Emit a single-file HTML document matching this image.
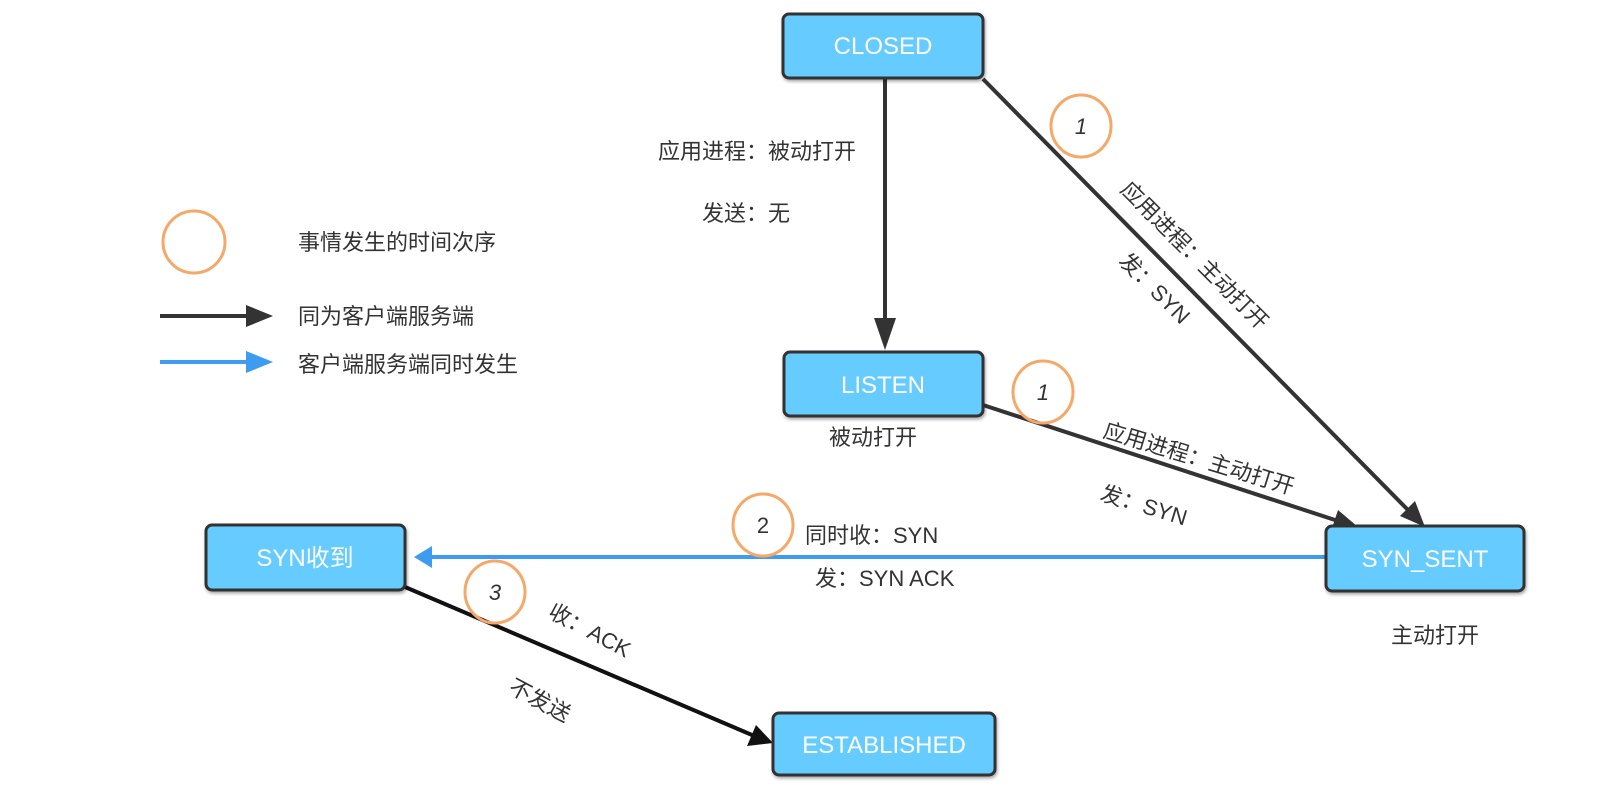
<!DOCTYPE html>
<html><head><meta charset="utf-8"><style>
html,body{margin:0;padding:0;background:#fff;}
svg{display:block;}
text{font-family:"Liberation Sans","Noto Sans CJK SC",sans-serif;fill:#333;}
.bt{fill:#fff;font-size:24px;}
.lb{font-size:22px;}
</style></head><body>
<svg width="1610" height="800" viewBox="0 0 1610 800" xmlns="http://www.w3.org/2000/svg">
<defs>
<marker id="ad" markerWidth="10" markerHeight="10" refX="9" refY="5" orient="auto" markerUnits="userSpaceOnUse" viewBox="0 0 10 10">
</marker>
<filter id="sh" x="-10%" y="-10%" width="130%" height="140%"><feDropShadow dx="1" dy="2" stdDeviation="1.5" flood-color="#000" flood-opacity="0.35"/></filter>
</defs>

<!-- connectors -->
<line x1="885" y1="79" x2="885" y2="322" stroke="#333" stroke-width="4"/>
<polygon points="874,318 896,318 885,350" fill="#333"/>

<line x1="983" y1="79" x2="1408" y2="510" stroke="#333" stroke-width="4"/>
<polygon points="1400,516 1415,501 1425,527" fill="#333"/>

<line x1="983" y1="405" x2="1335" y2="520" stroke="#333" stroke-width="4"/>
<polygon points="1331,531 1338,510 1358,527" fill="#333"/>

<line x1="1326" y1="557" x2="428" y2="557" stroke="#3d9bf0" stroke-width="4"/>
<polygon points="432,546 432,568 414,557" fill="#3d9bf0"/>

<line x1="405" y1="587" x2="752" y2="735" stroke="#111" stroke-width="4"/>
<polygon points="747,746 756,725 773,743" fill="#111"/>

<!-- boxes -->
<g filter="url(#sh)" stroke="#333" stroke-width="3" fill="#66ccff">
<rect x="783" y="14" width="200" height="64" rx="6"/>
<rect x="784" y="352" width="199" height="64" rx="6"/>
<rect x="206" y="525" width="199" height="65" rx="6"/>
<rect x="1326" y="526" width="198" height="65" rx="6"/>
<rect x="773" y="713" width="222" height="62" rx="6"/>
</g>
<text class="bt" x="883" y="54" text-anchor="middle">CLOSED</text>
<text class="bt" x="883" y="393" text-anchor="middle">LISTEN</text>
<text class="bt" x="305" y="566" text-anchor="middle">SYN收到</text>
<text class="bt" x="1425" y="567" text-anchor="middle">SYN_SENT</text>
<text class="bt" x="884" y="753" text-anchor="middle">ESTABLISHED</text>

<!-- circles -->
<g fill="none" stroke="#f5a868" stroke-width="3">
<ellipse cx="194" cy="242" rx="31" ry="31"/>
<ellipse cx="1081" cy="126" rx="30" ry="31"/>
<ellipse cx="1043" cy="392" rx="30" ry="31"/>
<ellipse cx="763" cy="525" rx="30" ry="31"/>
<ellipse cx="495" cy="592" rx="30" ry="31"/>
</g>
<text class="lb" x="1081" y="134" text-anchor="middle" font-style="italic">1</text>
<text class="lb" x="1043" y="400" text-anchor="middle" font-style="italic">1</text>
<text class="lb" x="763" y="533" text-anchor="middle">2</text>
<text class="lb" x="495" y="600" text-anchor="middle" font-style="italic">3</text>

<!-- legend -->
<line x1="160" y1="316" x2="250" y2="316" stroke="#333" stroke-width="4"/>
<polygon points="246,305 246,327 273,316" fill="#333"/>
<line x1="160" y1="362" x2="250" y2="362" stroke="#3d9bf0" stroke-width="4"/>
<polygon points="246,351 246,373 273,362" fill="#3d9bf0"/>
<text class="lb" x="298" y="250" font-size="23">事情发生的时间次序</text>
<text class="lb" x="298" y="324" font-size="23">同为客户端服务端</text>
<text class="lb" x="298" y="372" font-size="23">客户端服务端同时发生</text>

<!-- labels -->
<text class="lb" x="856" y="159" text-anchor="end">应用进程：被动打开</text>
<text class="lb" x="790" y="221" text-anchor="end">发送：无</text>
<text class="lb" x="873" y="445" text-anchor="middle">被动打开</text>
<text class="lb" x="805" y="543">同时收：SYN</text>
<text class="lb" x="815" y="586">发：SYN ACK</text>
<text class="lb" x="1435" y="643" text-anchor="middle">主动打开</text>

<text class="lb" transform="translate(1195,255) rotate(45)" text-anchor="middle" dy="8">应用进程：主动打开</text>
<text class="lb" transform="translate(1155,288) rotate(45)" text-anchor="middle" dy="8">发：SYN</text>
<text class="lb" transform="translate(1199,458) rotate(17)" text-anchor="middle" dy="8">应用进程：主动打开</text>
<text class="lb" transform="translate(1144,505) rotate(17)" text-anchor="middle" dy="8">发：SYN</text>
<text class="lb" transform="translate(590,630) rotate(28)" text-anchor="middle" dy="8">收：ACK</text>
<text class="lb" transform="translate(540,700) rotate(28)" text-anchor="middle" dy="8">不发送</text>
</svg>
</body></html>
